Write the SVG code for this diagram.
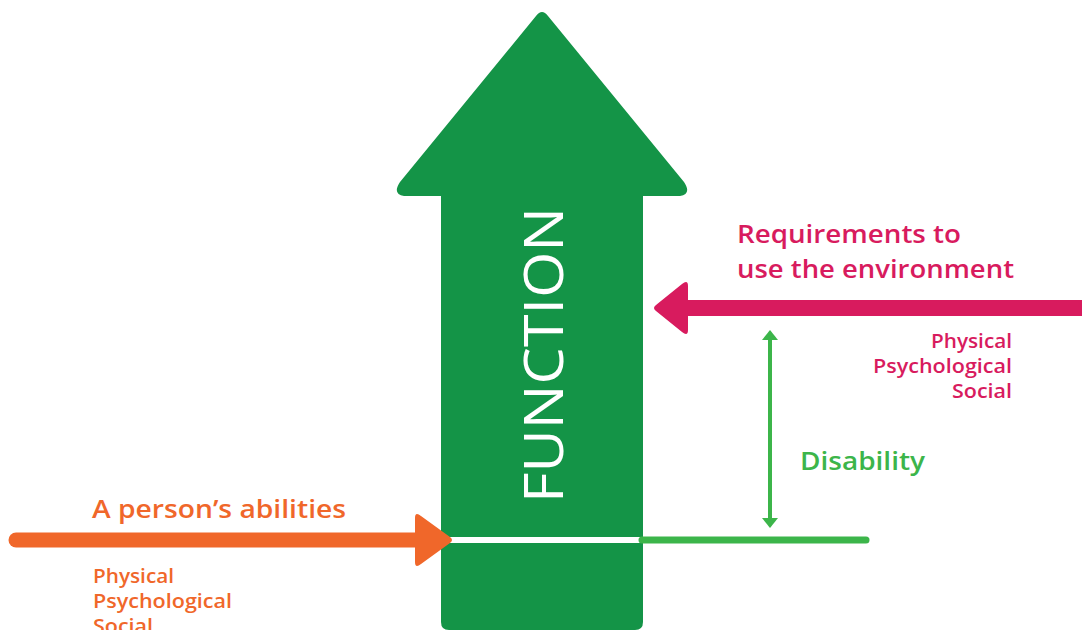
<svg xmlns="http://www.w3.org/2000/svg" width="1082" height="630" viewBox="0 0 1082 630">
<style>
.t{font-family:"Open Sans","Liberation Sans",sans-serif;font-weight:600}
.big{font-size:26px}
.sm{font-size:20px}
.o{fill:#f0672a}.p{fill:#d81b5e}.g{fill:#3cb54a}
</style>
<rect width="1082" height="630" fill="#fff"/>
<g id="function-arrow">
<path d="M536,16 Q542,8 548,16 L684,182 Q692,194 680,196 L643,196 L643,622 Q643,630 635,630 L449,630 Q441,630 441,622 L441,196 L404,196 Q392,194 400,182 Z" fill="#149447"/>
<text x="0" y="0" font-family="'Open Sans','Liberation Sans',sans-serif" font-weight="500" font-size="54" fill="#fff" transform="translate(563,503) rotate(-90)" textLength="296" lengthAdjust="spacingAndGlyphs">FUNCTION</text>
</g>
<g id="connectors">
<line x1="441" y1="540" x2="642" y2="540" stroke="#fff" stroke-width="6"/>
<line x1="16" y1="540" x2="425" y2="540" stroke="#f0672a" stroke-width="15" stroke-linecap="round"/>
<path d="M415,518 Q415,511 421,516 L450,537 Q454,540 450,543 L421,564 Q415,569 415,562 Z" fill="#f0672a"/>
<line x1="680" y1="308" x2="1082" y2="308" stroke="#d81b5e" stroke-width="16"/>
<path d="M688,286 Q688,279 682,284 L656,305 Q652,308 656,311 L682,332 Q688,337 688,330 Z" fill="#d81b5e"/>
<line x1="642" y1="540" x2="866" y2="540" stroke="#3cb54a" stroke-width="7" stroke-linecap="round"/>
<line x1="770" y1="338" x2="770" y2="520" stroke="#3cb54a" stroke-width="4"/>
<path d="M762,340 L770,330 L778,340 Z" fill="#3cb54a"/>
<path d="M762,518 L770,528 L778,518 Z" fill="#3cb54a"/>
</g>
<g id="abilities">
<text class="t big o" x="92" y="518" textLength="254" lengthAdjust="spacingAndGlyphs">A person’s abilities</text>
<text class="t sm o" x="93" y="583" textLength="81" lengthAdjust="spacingAndGlyphs">Physical</text>
<text class="t sm o" x="93" y="608" textLength="139" lengthAdjust="spacingAndGlyphs">Psychological</text>
<text class="t sm o" x="93" y="633" textLength="60" lengthAdjust="spacingAndGlyphs">Social</text>
</g>
<g id="requirements">
<text class="t big p" x="737" y="243" textLength="224" lengthAdjust="spacingAndGlyphs">Requirements to</text>
<text class="t big p" x="737" y="278" textLength="277" lengthAdjust="spacingAndGlyphs">use the environment</text>
<text class="t sm p" x="931" y="348" textLength="81" lengthAdjust="spacingAndGlyphs">Physical</text>
<text class="t sm p" x="873" y="373" textLength="139" lengthAdjust="spacingAndGlyphs">Psychological</text>
<text class="t sm p" x="952" y="398" textLength="60" lengthAdjust="spacingAndGlyphs">Social</text>
</g>
<g id="disability">
<text class="t big g" x="800" y="470" textLength="125" lengthAdjust="spacingAndGlyphs">Disability</text>
</g>
</svg>
